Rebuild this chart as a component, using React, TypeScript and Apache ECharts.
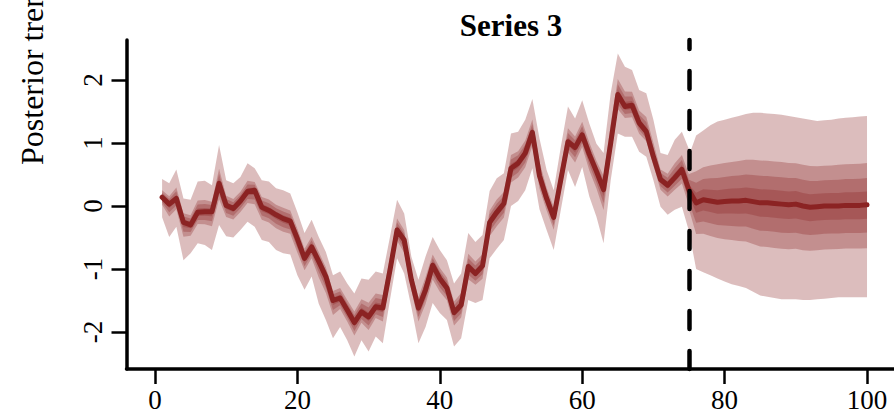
import React, { useEffect, useRef } from "react";
import * as echarts from "echarts";

// ---- data ----
const xTicks = [0, 20, 40, 60, 80, 100];
const yTicks = [-2, -1, 0, 1, 2];
const historyStart = 1;
const forecastStart = 75; // vertical dashed marker

const historyMedian = [
  0.14, 0.03, 0.12, -0.26, -0.3, -0.1, -0.09, -0.09, 0.36, 0.01,
  -0.04, 0.08, 0.23, 0.25, -0.02, -0.07, -0.14, -0.2, -0.24, -0.52,
  -0.83, -0.65, -0.88, -1.12, -1.5, -1.46, -1.65, -1.85, -1.68, -1.76,
  -1.6, -1.62, -1.02, -0.38, -0.54, -1.17, -1.62, -1.33, -0.94, -1.15,
  -1.3, -1.69, -1.57, -0.96, -1.07, -0.95, -0.26, -0.1, 0.04, 0.6,
  0.68, 0.84, 1.17, 0.48, 0.12, -0.18, 0.42, 1.02, 0.93, 1.13,
  0.82, 0.55, 0.26, 1.0, 1.77, 1.58, 1.6, 1.32, 1.18, 0.78,
  0.42, 0.33, 0.45, 0.58, 0.25,
];
const historyUpper = [
  0.43, 0.36, 0.58, 0.12, 0.1, 0.39, 0.4, 0.33, 0.97, 0.41,
  0.36, 0.46, 0.68, 0.6, 0.41, 0.39, 0.28, 0.25, 0.2, -0.1,
  -0.43, -0.22, -0.49, -0.73, -1.1, -1.04, -1.23, -1.39, -1.15, -1.17,
  -1.04, -1.07, -0.49, 0.1, -0.12, -0.8, -1.17, -0.8, -0.49, -0.7,
  -0.86, -1.23, -1.07, -0.43, -0.57, -0.46, 0.24, 0.44, 0.52, 1.15,
  1.18, 1.37, 1.7, 1.07, 0.57, 0.25, 0.94, 1.58, 1.39, 1.68,
  1.31, 0.99, 0.84, 1.79, 2.42, 2.21, 2.16, 1.84, 1.79, 1.37,
  0.84, 0.81, 1.05, 1.18, 0.9,
];
const historyLower = [
  -0.18, -0.49, -0.33, -0.86, -0.75, -0.59, -0.62, -0.7, -0.3, -0.48,
  -0.5, -0.38, -0.25, -0.33, -0.54, -0.57, -0.7, -0.75, -0.77, -1.1,
  -1.33, -1.12, -1.55, -1.81, -2.1, -1.92, -2.13, -2.39, -2.13, -2.31,
  -2.07, -2.18, -1.49, -0.83, -1.07, -1.6, -2.18, -1.92, -1.54, -1.7,
  -1.81, -2.23, -2.1, -1.49, -1.54, -1.49, -0.83, -0.68, -0.54, 0.0,
  0.08, 0.25, 0.6, -0.05, -0.38, -0.7, -0.06, 0.57, 0.3, 0.62,
  0.15, -0.17, -0.59, 0.41, 1.15, 1.1, 1.1, 0.86, 0.78, 0.41,
  -0.01, -0.14, -0.06, -0.01, -0.4,
];
// forecast median for t = 76..100
const forecastMedian = [
  0.05, 0.1, 0.08, 0.06, 0.07, 0.08, 0.08, 0.09, 0.07, 0.05,
  0.05, 0.04, 0.03, 0.02, 0.03, 0.0, -0.02, -0.01, 0.0, 0.0,
  0.0, 0.01, 0.01, 0.01, 0.02,
];
// forecast outer band for t = 75..100
const forecastUpper = [
  0.8, 1.12, 1.2, 1.28, 1.34, 1.37, 1.4, 1.43, 1.46, 1.48,
  1.48, 1.47, 1.46, 1.45, 1.43, 1.41, 1.39, 1.37, 1.35, 1.36,
  1.37, 1.39, 1.4, 1.41, 1.42, 1.43,
];
const forecastLower = [
  -0.4, -1.0, -1.05, -1.1, -1.15, -1.2, -1.24, -1.27, -1.3, -1.36,
  -1.42, -1.44, -1.46, -1.48, -1.48, -1.48, -1.49, -1.49, -1.48, -1.47,
  -1.46, -1.45, -1.45, -1.45, -1.45, -1.45,
];
// share of the outer half-width covered by the inner quantile bands
const historyInnerShare = [1, 0.38, 0.25, 0.12];
const forecastInnerShare = [1, 0.47, 0.3, 0.15];

const TITLE = "Series 3";
const Y_LABEL = "Posterior trend";

const RED = "#8B2323";
const BAND_FILL = "rgba(139,35,35,0.3)";
const FONT = '"Liberation Serif", "Times New Roman", serif';

type Segment = { t0: number; med: number[]; hi: number[]; lo: number[]; share: number[] };

const historySeg: Segment = {
  t0: historyStart,
  med: historyMedian,
  hi: historyUpper,
  lo: historyLower,
  share: historyInnerShare,
};
const forecastSeg: Segment = {
  t0: forecastStart,
  med: [historyMedian[historyMedian.length - 1], ...forecastMedian],
  hi: forecastUpper,
  lo: forecastLower,
  share: forecastInnerShare,
};
const segments = [historySeg, forecastSeg];

const bandItems: number[][] = [];
segments.forEach((s, si) => s.share.forEach((_, li) => bandItems.push([si, li])));

const medianLine = [
  ...historyMedian.map((v, i) => [historyStart + i, v]),
  ...forecastMedian.map((v, i) => [forecastStart + 1 + i, v]),
];

export default function App() {
  const ref = useRef<HTMLDivElement>(null);
  useEffect(() => {
    if (!ref.current) return;
    const chart = echarts.init(ref.current, null, { renderer: "svg", width: 894, height: 416 });
    const option: any = {
      animation: false,
      backgroundColor: "#fff",
      grid: { left: 126.5, top: 40, width: 769, height: 329, containLabel: false, outerBoundsMode: "none" },
      xAxis: {
        type: "value",
        min: -4,
        max: 104,
        axisLine: { onZero: false, lineStyle: { color: "#000", width: 3.5 } },
        axisTick: { show: true, length: 15, lineStyle: { color: "#000", width: 2.5 }, customValues: xTicks },
        axisLabel: { customValues: xTicks, color: "#000", fontFamily: FONT, fontSize: 27, margin: 17 },
        splitLine: { show: false },
      },
      yAxis: {
        type: "value",
        min: -2.587,
        max: 2.635,
        axisLine: { show: true, onZero: false, lineStyle: { color: "#000", width: 3.5 } },
        axisTick: { show: true, length: 15, lineStyle: { color: "#000", width: 2.5 }, customValues: yTicks },
        axisLabel: { customValues: yTicks, color: "#000", fontFamily: FONT, fontSize: 27, margin: 20, rotate: 90 },
        splitLine: { show: false },
      },
      graphic: [
        {
          type: "text",
          x: 511,
          y: 25,
          style: { text: TITLE, font: `bold 31px ${FONT}`, fill: "#000", textAlign: "center", textVerticalAlign: "middle" },
        },
        {
          type: "text",
          x: 32,
          y: 165,
          rotation: Math.PI / 2,
          style: { text: Y_LABEL, font: `32px ${FONT}`, fill: "#000", textAlign: "left", textVerticalAlign: "middle" },
        },
      ],
      series: [
        {
          type: "custom",
          silent: true,
          data: bandItems,
          encode: { x: -1, y: -1 },
          z: 1,
          renderItem: (params: any, api: any) => {
            const [si, li] = bandItems[params.dataIndex];
            const s = segments[si];
            const f = s.share[li];
            const up: number[][] = [];
            const dn: number[][] = [];
            for (let i = 0; i < s.hi.length; i++) {
              const t = s.t0 + i;
              const m = s.med[i];
              up.push(api.coord([t, m + f * (s.hi[i] - m)]));
              dn.push(api.coord([t, m - f * (m - s.lo[i])]));
            }
            return {
              type: "polygon",
              shape: { points: up.concat(dn.reverse()) },
              style: { fill: BAND_FILL },
            };
          },
        },
        {
          type: "line",
          data: medianLine,
          symbol: "none",
          z: 3,
          lineStyle: { color: RED, width: 5, cap: "round", join: "round" },
          silent: true,
        },
        {
          type: "line",
          data: [],
          z: 5,
          markLine: {
            silent: true,
            symbol: "none",
            label: { show: false },
            lineStyle: { color: "#000", width: 4.5, type: [18, 22], cap: "round" },
            data: [{ xAxis: forecastStart }],
          },
        },
      ],
    };
    chart.setOption(option);
    return () => chart.dispose();
  }, []);
  return (
    <div
      ref={ref}
      style={{ position: "fixed", left: 0, top: 0, width: 894, height: 416, background: "#fff" }}
    />
  );
}
